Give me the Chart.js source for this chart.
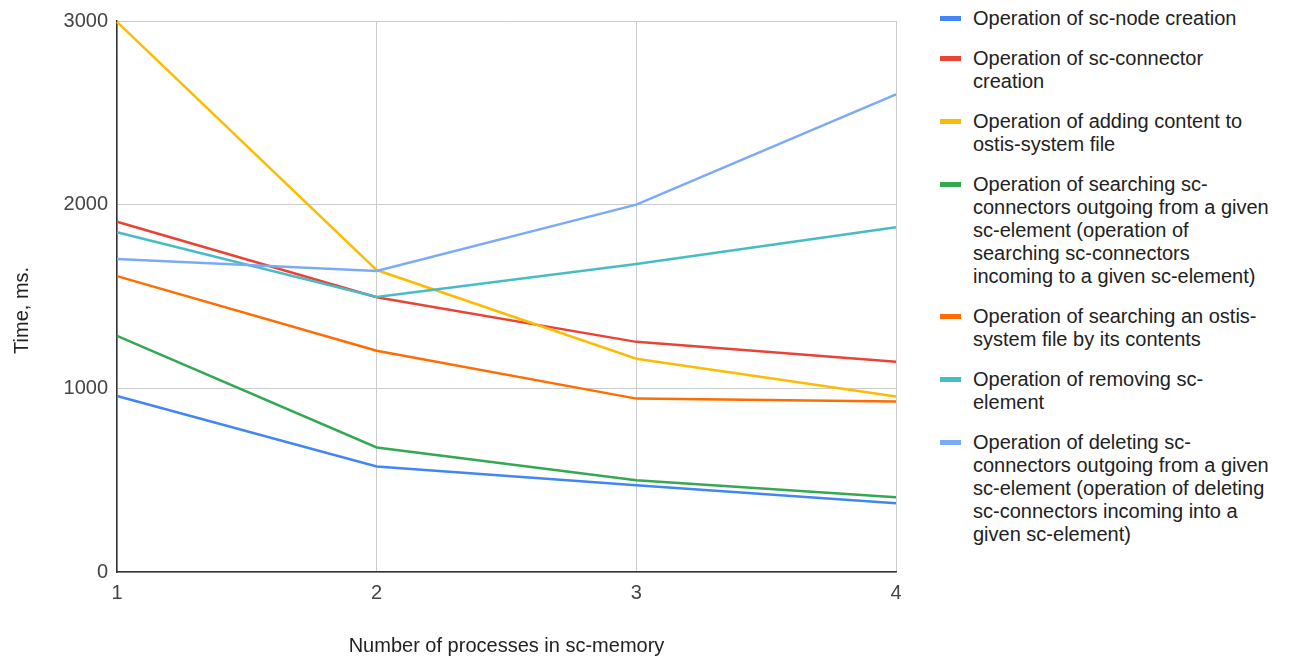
<!DOCTYPE html>
<html lang="en">
<head>
<meta charset="UTF-8">
<title>Time of sc-memory operations</title>
<script src="https://cdn.jsdelivr.net/npm/chart.js"></script>
<style>
  body { margin: 0; background: #fff; font-family: "Liberation Sans", Arial, sans-serif; }
  #wrap { position: relative; width: 1292px; height: 660px; }
  #chart { position: absolute; left: 0; top: 0; }
  #legend { position: absolute; left: 940px; top: 7px; color: #222; font-size: 20px; line-height: 23px; }
  .item { display: flex; margin-bottom: 17px; }
  .sw { width: 21px; height: 5px; margin-top: 9px; margin-right: 12px; flex: none; }
  .txt { white-space: nowrap; }
</style>
</head>
<body>
<div id="wrap">
  <canvas id="chart" width="920" height="660"></canvas>
  <div id="legend"></div>
</div>
<script>
// data
const processes = ['1', '2', '3', '4'];
const yTicks = [0, 1000, 2000, 3000];

const nodeCreation = [958, 575, 472, 374];
const connectorCreation = [1907, 1496, 1253, 1145];
const addingContent = [2995, 1644, 1161, 955];
const searchConnectors = [1286, 678, 499, 407];
const searchFile = [1611, 1205, 944, 928];
const removeElement = [1850, 1498, 1677, 1877];
const deleteConnectors = [1704, 1639, 2000, 2600];

const seriesNames = [
  ['Operation of sc-node creation'],
  ['Operation of sc-connector', 'creation'],
  ['Operation of adding content to', 'ostis-system file'],
  ['Operation of searching sc-', 'connectors outgoing from a given', 'sc-element (operation of', 'searching sc-connectors', 'incoming to a given sc-element)'],
  ['Operation of searching an ostis-', 'system file by its contents'],
  ['Operation of removing sc-', 'element'],
  ['Operation of deleting sc-', 'connectors outgoing from a given', 'sc-element (operation of deleting', 'sc-connectors incoming into a', 'given sc-element)']
];
const seriesValues = [nodeCreation, connectorCreation, addingContent, searchConnectors, searchFile, removeElement, deleteConnectors];
const colors = ['#4285f4', '#ea4335', '#fbbc04', '#34a853', '#ff6d01', '#46bdc6', '#7baaf7'];

const font = "'Liberation Sans', Arial, sans-serif";

const datasets = seriesValues.map((vals, i) => ({
  label: seriesNames[i].join(' '),
  data: vals,
  borderColor: colors[i],
  backgroundColor: colors[i],
  borderWidth: 2.5,
  pointRadius: 0,
  tension: 0,
  order: seriesValues.length - i
}));

new Chart(document.getElementById('chart'), {
  type: 'line',
  data: { labels: processes, datasets },
  options: {
    responsive: false,
    animation: false,
    devicePixelRatio: 1,
    layout: { padding: { top: 19, right: 24, left: 0, bottom: 0 } },
    plugins: { legend: { display: false }, tooltip: { enabled: false } },
    scales: {
      x: {
        offset: false,
        grid: { color: '#cccccc', drawTicks: false, lineWidth: 1 },
        border: { color: '#333333', width: 1.5 },
        ticks: { color: '#444', font: { family: font, size: 20 }, padding: 9, maxRotation: 0 },
        title: { display: true, text: 'Number of processes in sc-memory', color: '#222',
                 font: { family: font, size: 20 }, padding: { top: 0, bottom: 2 } },
        afterFit: s => { s.height = 88; }
      },
      y: {
        min: 0, max: 3000,
        afterBuildTicks: s => { s.ticks = yTicks.map(v => ({ value: v })); },
        grid: { color: '#cccccc', drawTicks: false, lineWidth: 1 },
        border: { color: '#333333', width: 1.5 },
        ticks: { color: '#444', font: { family: font, size: 20 }, padding: 9, callback: v => String(v) },
        // trailing spaces push the title a little below the plot centre, as in the original
        title: { display: true, text: 'Time, ms.     ', color: '#222',
                 font: { family: font, size: 20 }, padding: { top: 10, bottom: 0 } },
        afterFit: s => { s.width = 117; }
      }
    }
  }
});

// legend next to the chart, built from the same arrays
const legend = document.getElementById('legend');
seriesNames.forEach((lines, i) => {
  const item = document.createElement('div');
  item.className = 'item';
  item.innerHTML = `<div class="sw" style="background:${colors[i]}"></div>` +
    `<div class="txt">${lines.join('<br>')}</div>`;
  legend.appendChild(item);
});
</script>
</body>
</html>
